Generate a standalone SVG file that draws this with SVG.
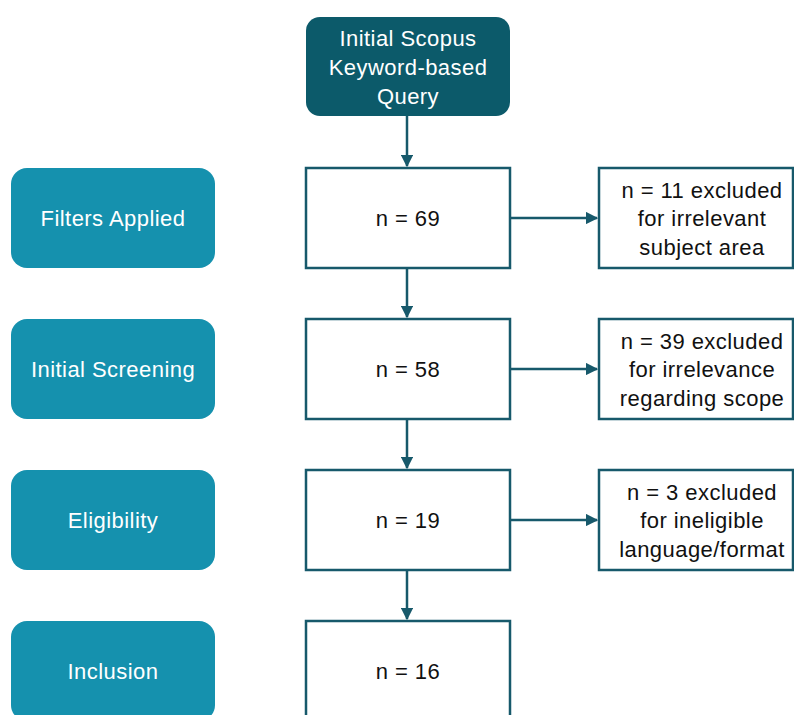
<svg xmlns="http://www.w3.org/2000/svg" width="794" height="715" viewBox="0 0 794 715">
  <style>
    .stage { fill: #1591ae; }
    .query { fill: #0c5a6a; }
    .box { fill: #ffffff; stroke: #17596b; stroke-width: 2.5; }
    .lbl { font-family: "Liberation Sans", Arial, sans-serif; font-size: 22px; letter-spacing: 0.45px; text-anchor: middle; dominant-baseline: central; }
    .light { fill: #ffffff; }
    .dark { fill: #111111; }
    .conn { stroke: #17596b; stroke-width: 2.5; fill: none; marker-end: url(#arrow); }
  </style>
  <defs>
    <marker id="arrow" viewBox="0 0 10 10" refX="9" refY="5" markerWidth="5" markerHeight="5" markerUnits="strokeWidth" orient="auto">
      <path d="M0,0 L10,5 L0,10 z" fill="#17596b"/>
    </marker>
  </defs>
  <rect width="794" height="715" fill="#ffffff"/>

  <!-- Stage labels (left column) -->
  <g id="stage-filters">
    <rect class="stage" x="11" y="168" width="204" height="100" rx="16"/>
    <text class="lbl light" x="113" y="218">Filters Applied</text>
  </g>
  <g id="stage-screening">
    <rect class="stage" x="11" y="319" width="204" height="100" rx="16"/>
    <text class="lbl light" x="113" y="369">Initial Screening</text>
  </g>
  <g id="stage-eligibility">
    <rect class="stage" x="11" y="470" width="204" height="100" rx="16"/>
    <text class="lbl light" x="113" y="520">Eligibility</text>
  </g>
  <g id="stage-inclusion">
    <rect class="stage" x="11" y="621" width="204" height="100" rx="16"/>
    <text class="lbl light" x="113" y="671">Inclusion</text>
  </g>

  <!-- Main flow -->
  <g id="query">
    <rect class="query" x="306" y="17" width="204" height="99" rx="14"/>
    <text class="lbl light" x="408" y="38">Initial Scopus</text>
    <text class="lbl light" x="408" y="67">Keyword-based</text>
    <text class="lbl light" x="408" y="96">Query</text>
  </g>
  <g id="n69">
    <rect class="box" x="306" y="168" width="204" height="100"/>
    <text class="lbl dark" x="408" y="218">n = 69</text>
  </g>
  <g id="n58">
    <rect class="box" x="306" y="319" width="204" height="100"/>
    <text class="lbl dark" x="408" y="369">n = 58</text>
  </g>
  <g id="n19">
    <rect class="box" x="306" y="470" width="204" height="100"/>
    <text class="lbl dark" x="408" y="520">n = 19</text>
  </g>
  <g id="n16">
    <rect class="box" x="306" y="621" width="204" height="100"/>
    <text class="lbl dark" x="408" y="671">n = 16</text>
  </g>

  <!-- Exclusions -->
  <g id="excl-subject">
    <rect class="box" x="599" y="168" width="194" height="100"/>
    <text class="lbl dark" x="702" y="190">n = 11 excluded</text>
    <text class="lbl dark" x="702" y="218">for irrelevant</text>
    <text class="lbl dark" x="702" y="247">subject area</text>
  </g>
  <g id="excl-scope">
    <rect class="box" x="599" y="319" width="194" height="100"/>
    <text class="lbl dark" x="702" y="341">n = 39 excluded</text>
    <text class="lbl dark" x="702" y="369">for irrelevance</text>
    <text class="lbl dark" x="702" y="398">regarding scope</text>
  </g>
  <g id="excl-format">
    <rect class="box" x="599" y="470" width="194" height="100"/>
    <text class="lbl dark" x="702" y="492">n = 3 excluded</text>
    <text class="lbl dark" x="702" y="520">for ineligible</text>
    <text class="lbl dark" x="702" y="549">language/format</text>
  </g>

  <!-- Connectors -->
  <g id="connectors">
    <line class="conn" x1="407" y1="116" x2="407" y2="166"/>
    <line class="conn" x1="407" y1="268" x2="407" y2="317"/>
    <line class="conn" x1="407" y1="419" x2="407" y2="468"/>
    <line class="conn" x1="407" y1="570" x2="407" y2="619"/>
    <line class="conn" x1="510" y1="218" x2="597" y2="218"/>
    <line class="conn" x1="510" y1="369" x2="597" y2="369"/>
    <line class="conn" x1="510" y1="520" x2="597" y2="520"/>
  </g>
</svg>
